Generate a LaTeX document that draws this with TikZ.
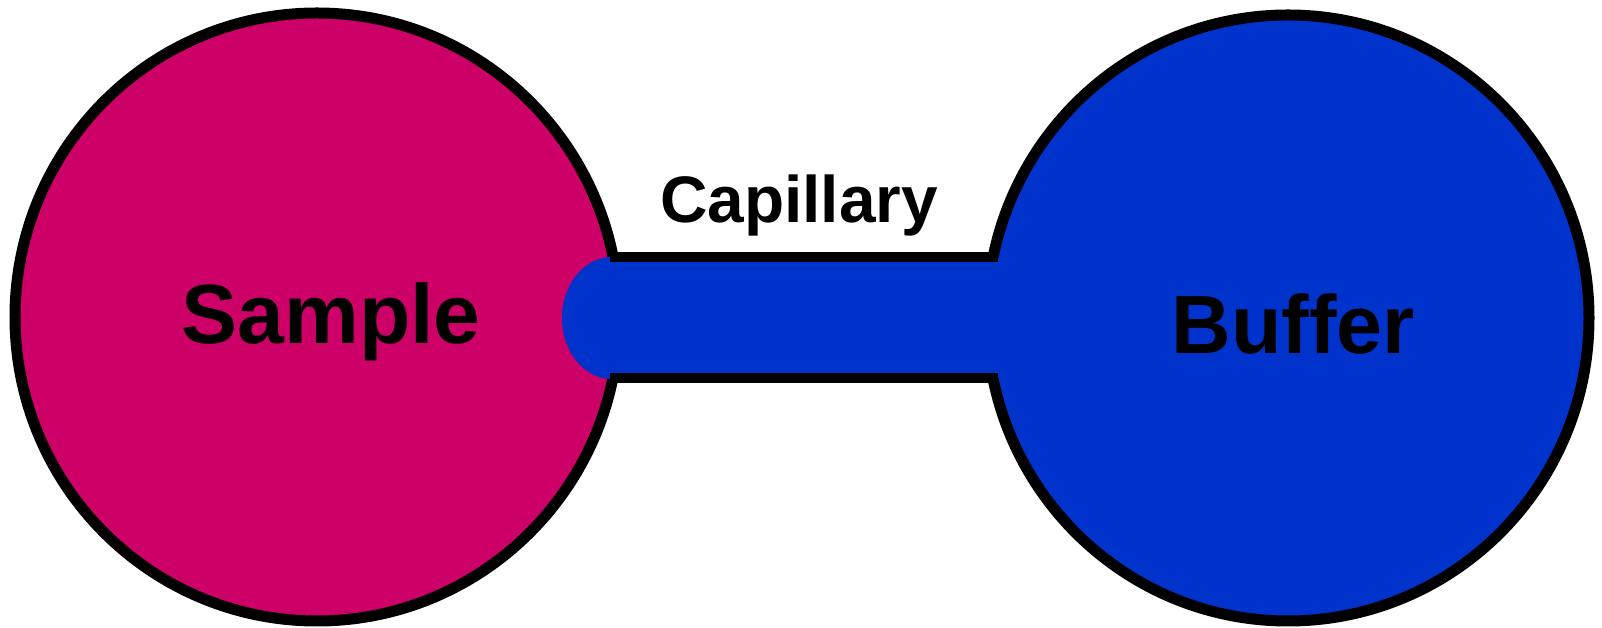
\documentclass[tikz,border=0pt]{standalone}
\usepackage{fontspec}
\setmainfont{Liberation Sans}
\definecolor{samplecol}{HTML}{CC0066}
\definecolor{buffercol}{HTML}{0033CC}
\tikzset{
  blobline/.style={line width=11*0.01cm},
  wallline/.style={line width=10*0.01cm},
  lbl/.style={anchor=base, inner sep=0pt, font=\bfseries},
}
\begin{document}
\begin{tikzpicture}[x=0.01cm,y=-0.01cm]
\useasboundingbox (0,0) rectangle (1602,628);
% reservoirs
\draw[blobline, fill=samplecol] (317,317) ellipse [x radius=302, y radius=304];
\draw[blobline, fill=buffercol] (1288,318) ellipse [x radius=301, y radius=303];
% capillary interior
\fill[buffercol] (612,318) ellipse [x radius=50, y radius=61];
\fill[buffercol] (612,258) rectangle (1000,378);
% capillary walls
\coordinate (w1) at (610,257);
\coordinate (w2) at (998,257);
\coordinate (w3) at (610,378);
\coordinate (w4) at (998,378);
\draw[wallline] (w1) -- (w2);
\draw[wallline] (w3) -- (w4);
% labels
\node[lbl, font=\fontsize{23.9}{26}\selectfont\bfseries] (sample) at (331,344) {Sample};
\node[lbl, font=\fontsize{23.5}{26}\selectfont\bfseries] (buffer) at (1293,354) {Buffer};
\node[lbl, font=\fontsize{18.7}{21}\selectfont\bfseries] (capillary) at (799,223) {Capillary};
\end{tikzpicture}
\end{document}
